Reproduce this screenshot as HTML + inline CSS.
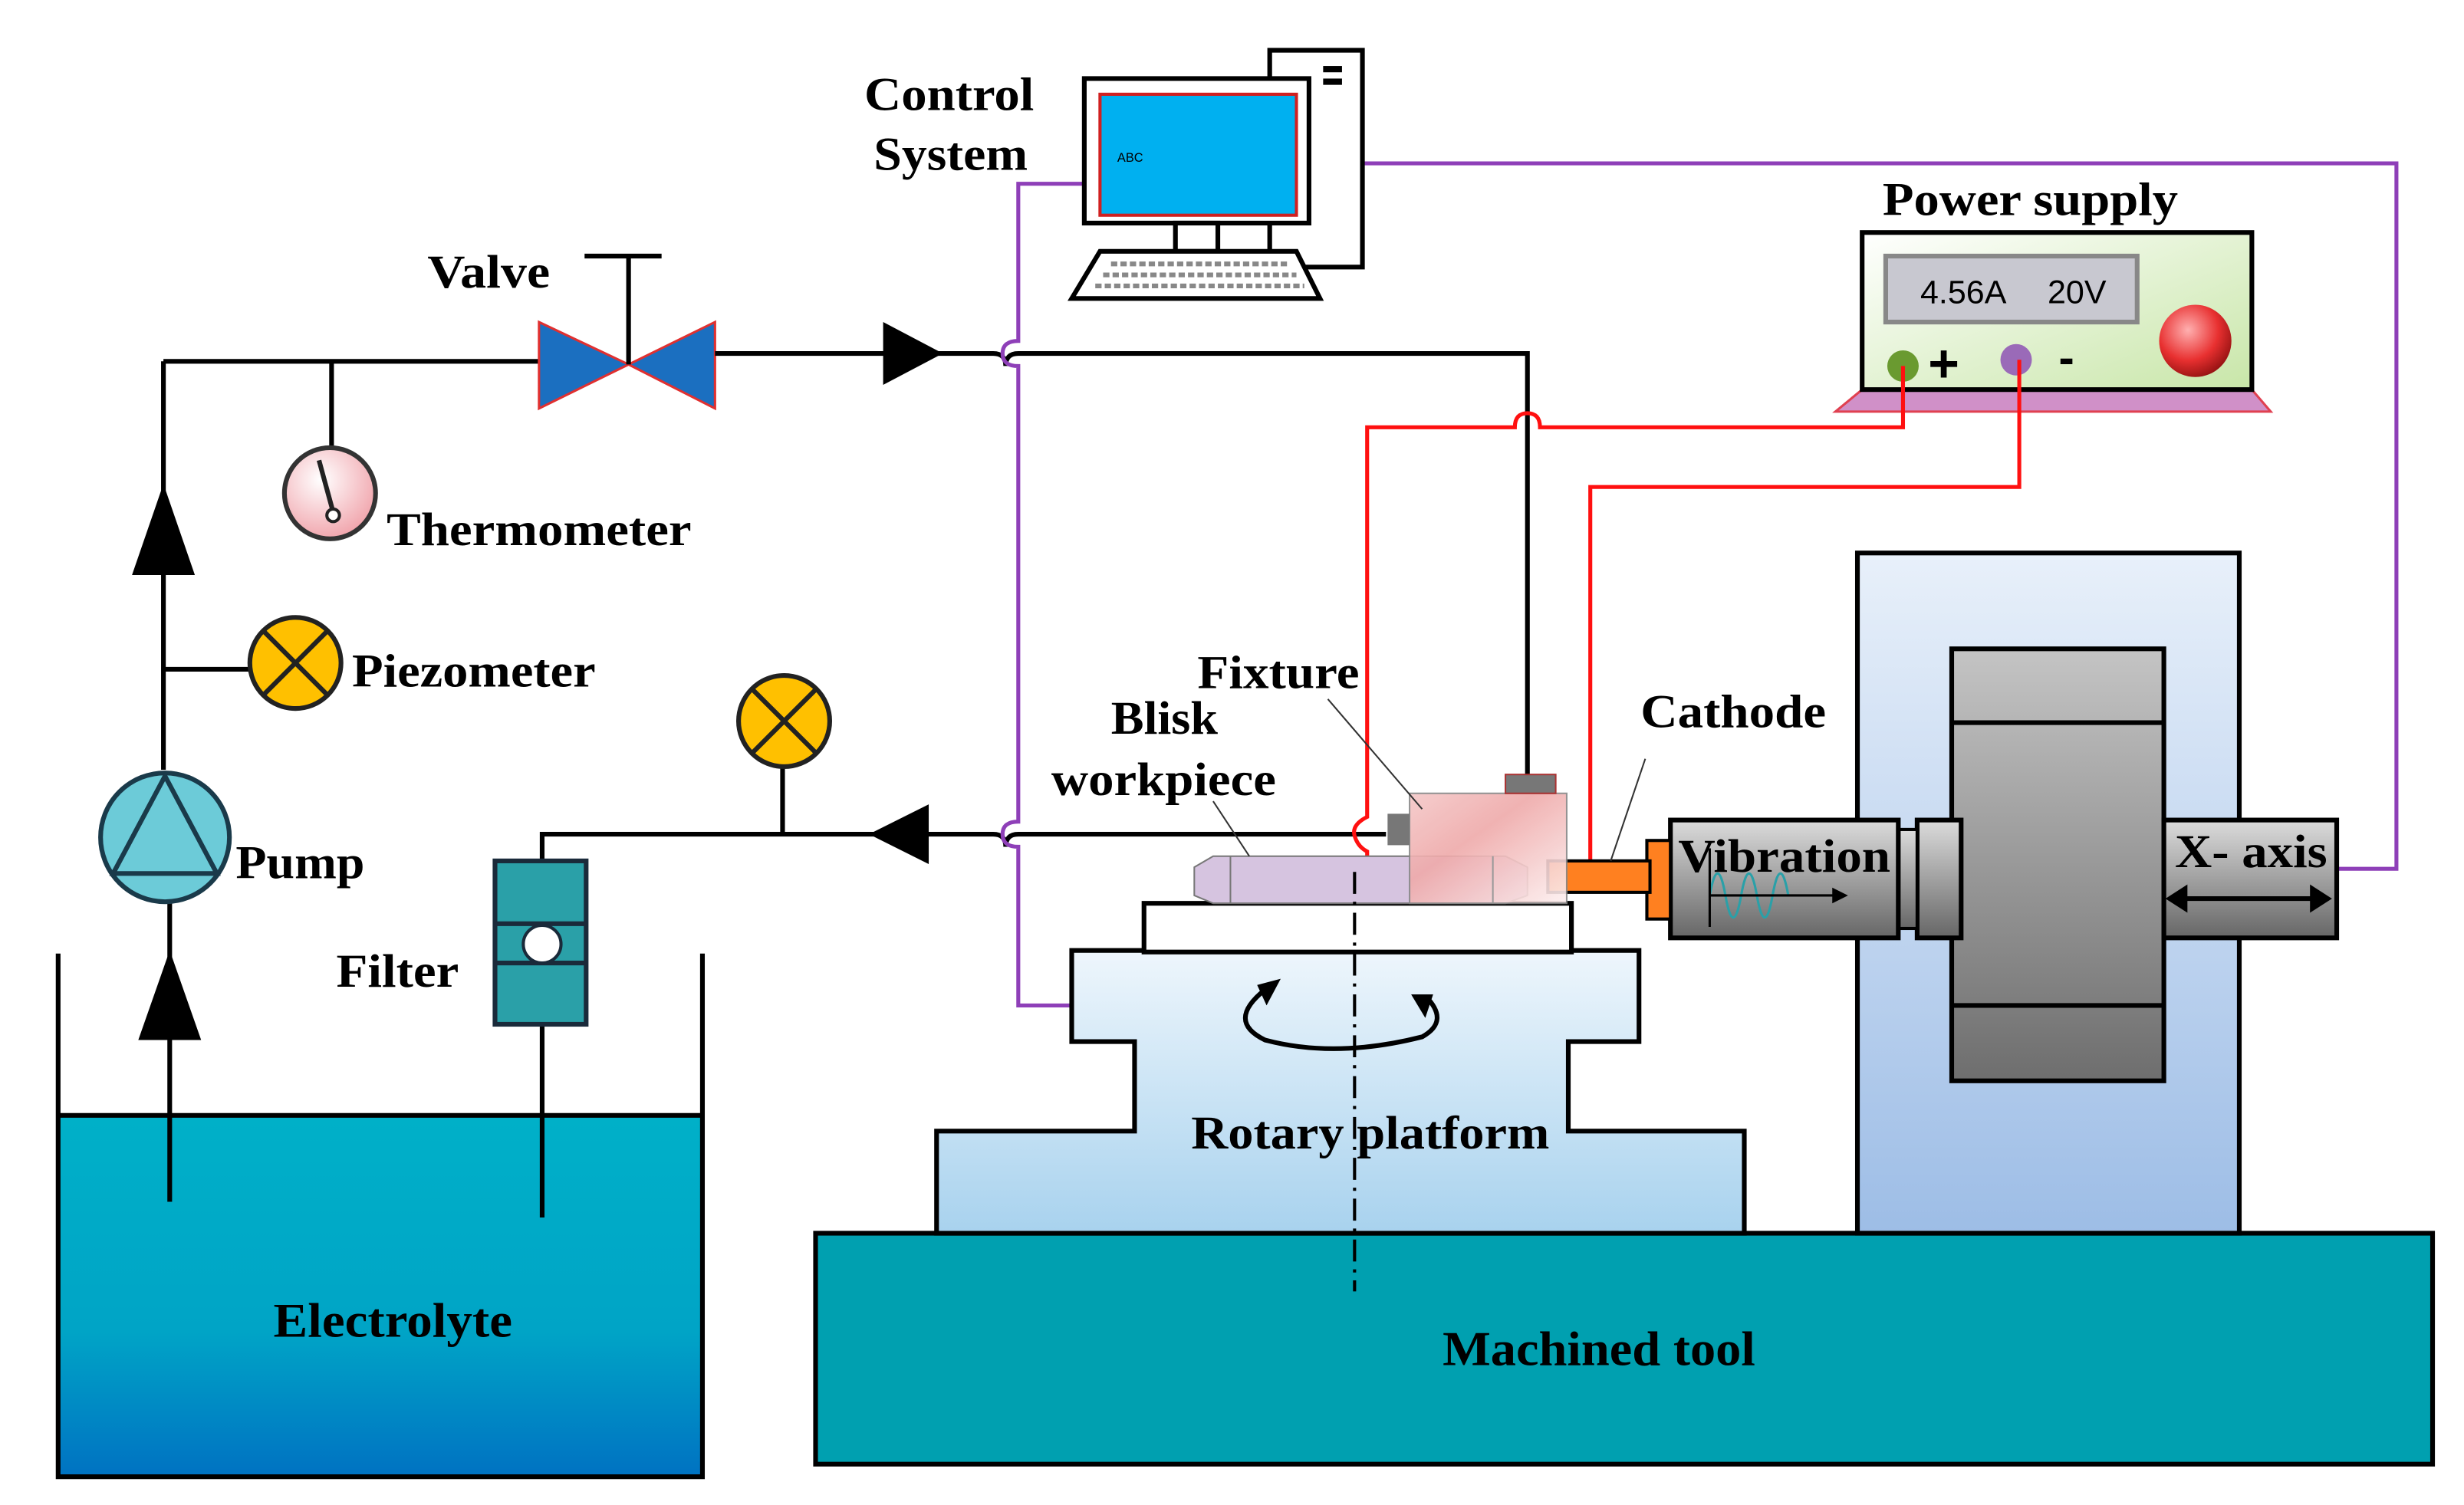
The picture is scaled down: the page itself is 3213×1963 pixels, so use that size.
<!DOCTYPE html>
<html><head><meta charset="utf-8"><style>
html,body{margin:0;padding:0;background:#fff;}
svg{display:block;}
text{font-family:"Liberation Serif",serif;font-weight:bold;fill:#000;}
</style></head><body>
<svg width="3213" height="1963" viewBox="0 0 1568 958" preserveAspectRatio="none" xmlns="http://www.w3.org/2000/svg">
<defs>
<linearGradient id="water" x1="0" y1="0" x2="0" y2="1"><stop offset="0" stop-color="#00b0c8"/><stop offset="0.6" stop-color="#00a4c6"/><stop offset="1" stop-color="#0072c2"/></linearGradient>
<linearGradient id="plat" x1="0" y1="0" x2="0" y2="1"><stop offset="0" stop-color="#eef6fc"/><stop offset="1" stop-color="#a8d2ee"/></linearGradient>
<linearGradient id="col" x1="0" y1="0" x2="0" y2="1"><stop offset="0" stop-color="#e8f0fa"/><stop offset="1" stop-color="#9dbde6"/></linearGradient>
<linearGradient id="gray" x1="0" y1="0" x2="0" y2="1"><stop offset="0" stop-color="#c4c4c4"/><stop offset="1" stop-color="#6e6e6e"/></linearGradient>
<linearGradient id="gbox" x1="0" y1="0" x2="0" y2="1"><stop offset="0" stop-color="#dcdcdc"/><stop offset="1" stop-color="#666"/></linearGradient>
<linearGradient id="fix" x1="0" y1="0" x2="1" y2="1"><stop offset="0" stop-color="#f4c8c8"/><stop offset="0.4" stop-color="#efaaaa"/><stop offset="1" stop-color="#fdf0f0"/></linearGradient>
<linearGradient id="ps" x1="0" y1="0" x2="1" y2="1"><stop offset="0" stop-color="#ffffff"/><stop offset="1" stop-color="#c8e6a8"/></linearGradient>
<radialGradient id="ball" cx="0.4" cy="0.35" r="0.7"><stop offset="0" stop-color="#ffb0b0"/><stop offset="0.6" stop-color="#e83030"/><stop offset="1" stop-color="#901010"/></radialGradient>
<radialGradient id="therm" cx="0.4" cy="0.35" r="0.7"><stop offset="0" stop-color="#fff"/><stop offset="1" stop-color="#f0a0a8"/></radialGradient>
</defs>

<!-- Tank -->
<rect x="37" y="710" width="410" height="230" fill="url(#water)"/>
<line x1="37" y1="710" x2="447" y2="710" stroke="#000" stroke-width="3"/>
<polyline points="37,607 37,940 447,940 447,607" fill="none" stroke="#000" stroke-width="3"/>
<text x="174" y="851" font-size="31" textLength="152" lengthAdjust="spacingAndGlyphs">Electrolyte</text>

<!-- Pump line -->
<line x1="108" y1="765" x2="108" y2="575" stroke="#000" stroke-width="3"/>
<polygon points="108,605 88,662 128,662" fill="#000"/>
<line x1="104" y1="490" x2="104" y2="230" stroke="#000" stroke-width="3"/>
<polygon points="104,308 84,366 124,366" fill="#000"/>
<circle cx="105" cy="533" r="41" fill="#6ccbd8" stroke="#1a3a4a" stroke-width="3"/>
<polygon points="105,494 72,556 138,556" fill="none" stroke="#1a3a4a" stroke-width="3"/>
<text x="150" y="559" font-size="30" textLength="82" lengthAdjust="spacingAndGlyphs">Pump</text>

<!-- Piezometer -->
<line x1="104" y1="426" x2="160" y2="426" stroke="#000" stroke-width="3"/>
<circle cx="188" cy="422" r="29" fill="#ffc000" stroke="#222" stroke-width="3"/>
<line x1="168" y1="402" x2="208" y2="442" stroke="#222" stroke-width="3"/>
<line x1="208" y1="402" x2="168" y2="442" stroke="#222" stroke-width="3"/>
<text x="224" y="437" font-size="30" textLength="155" lengthAdjust="spacingAndGlyphs">Piezometer</text>

<!-- Thermometer -->
<line x1="211" y1="230" x2="211" y2="285" stroke="#000" stroke-width="3"/>
<circle cx="210" cy="314" r="29" fill="url(#therm)" stroke="#333" stroke-width="3"/>
<line x1="203" y1="293" x2="212" y2="326" stroke="#222" stroke-width="3"/>
<circle cx="212" cy="328" r="4" fill="#fff" stroke="#222" stroke-width="2"/>
<text x="246" y="347" font-size="30" textLength="194" lengthAdjust="spacingAndGlyphs">Thermometer</text>

<!-- top pipe & valve -->
<line x1="104" y1="230" x2="345" y2="230" stroke="#000" stroke-width="3"/>
<polygon points="343,205 343,260 400,232" fill="#1b6fc0" stroke="#e03030" stroke-width="1.5"/>
<polygon points="455,205 455,260 400,232" fill="#1b6fc0" stroke="#e03030" stroke-width="1.5"/>
<line x1="400" y1="232" x2="400" y2="163" stroke="#000" stroke-width="3"/>
<line x1="372" y1="163" x2="421" y2="163" stroke="#000" stroke-width="3"/>
<text x="272" y="183" font-size="30" textLength="78" lengthAdjust="spacingAndGlyphs">Valve</text>
<path d="M455,225 H632 q8,0 8,8 q0,-8 8,-8 H972 V495" fill="none" stroke="#000" stroke-width="3"/>
<polygon points="600,225 562,205 562,245" fill="#000"/>

<!-- return pipe -->
<path d="M345,548 V531 H632 q8,0 8,8 q0,-8 8,-8 H882" fill="none" stroke="#000" stroke-width="3"/>
<polygon points="553,531 591,512 591,550" fill="#000"/>
<line x1="498" y1="531" x2="498" y2="488" stroke="#000" stroke-width="3"/>
<circle cx="499" cy="459" r="29" fill="#ffc000" stroke="#222" stroke-width="3"/>
<line x1="479" y1="439" x2="519" y2="479" stroke="#222" stroke-width="3"/>
<line x1="519" y1="439" x2="479" y2="479" stroke="#222" stroke-width="3"/>

<!-- filter -->
<line x1="345" y1="652" x2="345" y2="775" stroke="#000" stroke-width="3"/>
<rect x="315" y="548" width="58" height="104" fill="#2aa0a8" stroke="#1a2a3a" stroke-width="3"/>
<line x1="315" y1="588" x2="373" y2="588" stroke="#1a2a3a" stroke-width="3"/>
<line x1="315" y1="613" x2="373" y2="613" stroke="#1a2a3a" stroke-width="3"/>
<circle cx="345" cy="601" r="12" fill="#fff" stroke="#1a2a3a" stroke-width="2"/>
<text x="214" y="628" font-size="30" textLength="78" lengthAdjust="spacingAndGlyphs">Filter</text>

<!-- purple control lines -->
<path d="M700,117 H648 V217 q-10,0 -10,8 q0,8 10,8 V523 q-10,0 -10,8 q0,8 10,8 V640 H684" fill="none" stroke="#8e3fb8" stroke-width="2.5"/>
<polyline points="867,104 1525,104 1525,553 1487,553" fill="none" stroke="#8e3fb8" stroke-width="2.5"/>

<!-- computer -->
<rect x="808" y="32" width="59" height="138" fill="#fff" stroke="#000" stroke-width="3"/>
<rect x="842" y="42" width="12" height="4" fill="#000"/>
<rect x="842" y="50" width="12" height="4" fill="#000"/>
<rect x="690" y="50" width="143" height="92" fill="#fff" stroke="#000" stroke-width="3"/>
<rect x="700" y="60" width="125" height="77" fill="#00b0f0" stroke="#d02020" stroke-width="2"/>
<text x="711" y="103" font-size="8" style="font-family:'Liberation Sans',sans-serif;font-weight:normal">ABC</text>
<rect x="748" y="142" width="27" height="18" fill="#fff" stroke="#000" stroke-width="3"/>
<polygon points="700,160 825,160 840,190 682,190" fill="#fff" stroke="#000" stroke-width="3"/>
<g stroke="#888" stroke-width="3" stroke-dasharray="4,2"><line x1="707" y1="168" x2="820" y2="168"/><line x1="702" y1="175" x2="825" y2="175"/><line x1="697" y1="182" x2="830" y2="182"/></g>
<text x="550" y="70" font-size="30" textLength="108" lengthAdjust="spacingAndGlyphs">Control</text>
<text x="556" y="108" font-size="30" textLength="98" lengthAdjust="spacingAndGlyphs">System</text>

<!-- power supply -->
<text x="1198" y="137" font-size="30" textLength="188" lengthAdjust="spacingAndGlyphs">Power supply</text>
<polygon points="1185,248 1433,248 1445,262 1168,262" fill="#d090c8" stroke="#e04050" stroke-width="1.5"/>
<rect x="1185" y="148" width="248" height="100" fill="url(#ps)" stroke="#000" stroke-width="3"/>
<rect x="1200" y="163" width="160" height="42" fill="#c8c8d0" stroke="#888" stroke-width="3"/>
<text x="1222" y="193" font-size="21" style="font-family:'Liberation Sans',sans-serif;font-weight:normal">4.56A</text>
<text x="1303" y="193" font-size="21" style="font-family:'Liberation Sans',sans-serif;font-weight:normal">20V</text>
<circle cx="1211" cy="233" r="10" fill="#6a9a30"/>
<text x="1227" y="243" font-size="34" style="font-family:'Liberation Sans',sans-serif">+</text>
<circle cx="1283" cy="229" r="10" fill="#9a6ab8"/>
<text x="1310" y="238" font-size="30" style="font-family:'Liberation Sans',sans-serif">-</text>
<circle cx="1397" cy="217" r="23" fill="url(#ball)"/>

<!-- red wires -->
<path d="M1211,233 V272 H980 q0,-9 -8,-9 q-8,0 -8,9 H870 V520 q-10,5 -8,12 q2,7 8,10 V555" fill="none" stroke="#ff1010" stroke-width="2.5"/>
<polyline points="1285,229 1285,310 1012,310 1012,548" fill="none" stroke="#ff1010" stroke-width="2.5"/>

<!-- machine tool -->
<rect x="519" y="785" width="1029" height="147" fill="#00a0b0" stroke="#000" stroke-width="3"/>
<text x="918" y="869" font-size="31" textLength="199" lengthAdjust="spacingAndGlyphs">Machined tool</text>

<!-- column -->
<rect x="1182" y="352" width="243" height="433" fill="url(#col)" stroke="#000" stroke-width="3"/>
<rect x="1242" y="413" width="135" height="275" fill="url(#gray)" stroke="#000" stroke-width="3"/>
<line x1="1242" y1="460" x2="1377" y2="460" stroke="#000" stroke-width="3"/>
<line x1="1242" y1="640" x2="1377" y2="640" stroke="#000" stroke-width="3"/>
<rect x="1377" y="522" width="110" height="75" fill="url(#gbox)" stroke="#000" stroke-width="3"/>
<text x="1384" y="552" font-size="30" textLength="97" lengthAdjust="spacingAndGlyphs">X- axis</text>
<line x1="1385" y1="572" x2="1478" y2="572" stroke="#000" stroke-width="3"/>
<polygon points="1378,572 1392,563 1392,581" fill="#000"/><polygon points="1484,572 1470,563 1470,581" fill="#000"/>
<rect x="1220" y="522" width="28" height="75" fill="url(#gbox)" stroke="#000" stroke-width="3"/>
<rect x="1208" y="528" width="12" height="63" fill="url(#gbox)" stroke="#000" stroke-width="2"/>
<rect x="1063" y="522" width="145" height="75" fill="url(#gbox)" stroke="#000" stroke-width="3"/>
<path d="M1088,570 q5,-28 10,0 q5,28 10,0 q5,-28 10,0 q5,28 10,0 q5,-28 10,0" fill="none" stroke="#2aa0a8" stroke-width="1.5"/>
<line x1="1088" y1="570" x2="1170" y2="570" stroke="#000" stroke-width="1.5"/><polygon points="1176,570 1166,565 1166,575" fill="#000"/>
<line x1="1088" y1="590" x2="1088" y2="540" stroke="#000" stroke-width="1.5"/>
<text x="1068" y="555" font-size="30" textLength="135" lengthAdjust="spacingAndGlyphs">Vibration</text>
<!-- cathode -->
<rect x="1048" y="535" width="15" height="50" fill="#ff8020" stroke="#000" stroke-width="2"/>
<rect x="985" y="548" width="65" height="20" fill="#ff8020" stroke="#000" stroke-width="2"/>
<text x="1044" y="463" font-size="30" textLength="118" lengthAdjust="spacingAndGlyphs">Cathode</text>
<line x1="1047" y1="483" x2="1025" y2="548" stroke="#333" stroke-width="1"/>

<!-- rotary platform -->
<polygon points="682,605 1043,605 1043,663 998,663 998,720 1110,720 1110,785 596,785 596,720 722,720 722,663 682,663" fill="url(#plat)" stroke="#000" stroke-width="3"/>
<rect x="728" y="575" width="272" height="31" fill="#fff" stroke="#000" stroke-width="3"/>
<text x="758" y="731" font-size="30" textLength="228" lengthAdjust="spacingAndGlyphs">Rotary platform</text>
<path d="M805,630 q-25,20 0,32 q45,12 100,-2 q18,-10 2,-26" fill="none" stroke="#000" stroke-width="3"/>
<polygon points="800,627 815,623 806,640" fill="#000"/><polygon points="898,633 912,633 907,648" fill="#000"/>

<!-- workpiece & fixture -->
<polygon points="772,545 958,545 972,552 972,570 958,575 772,575 760,570 760,552" fill="#d6c4e0" stroke="#777" stroke-width="1"/>
<line x1="783" y1="545" x2="783" y2="575" stroke="#777" stroke-width="1"/>
<rect x="897" y="505" width="100" height="70" fill="url(#fix)" stroke="#888" stroke-width="1" opacity="0.9"/>
<line x1="950" y1="545" x2="950" y2="575" stroke="#999" stroke-width="1"/>
<rect x="958" y="493" width="32" height="12" fill="#777" stroke="#a33" stroke-width="1"/>
<rect x="883" y="518" width="14" height="20" fill="#777"/>
<line x1="862" y1="555" x2="862" y2="822" stroke="#000" stroke-width="2" stroke-dasharray="14,5,2,5"/>
<text x="762" y="438" font-size="30" textLength="103" lengthAdjust="spacingAndGlyphs">Fixture</text>
<line x1="845" y1="445" x2="905" y2="515" stroke="#333" stroke-width="1"/>
<text x="707" y="467" font-size="30" textLength="68" lengthAdjust="spacingAndGlyphs">Blisk</text>
<text x="669" y="506" font-size="30" textLength="143" lengthAdjust="spacingAndGlyphs">workpiece</text>
<line x1="772" y1="510" x2="795" y2="545" stroke="#333" stroke-width="1"/>
</svg>
</body></html>
